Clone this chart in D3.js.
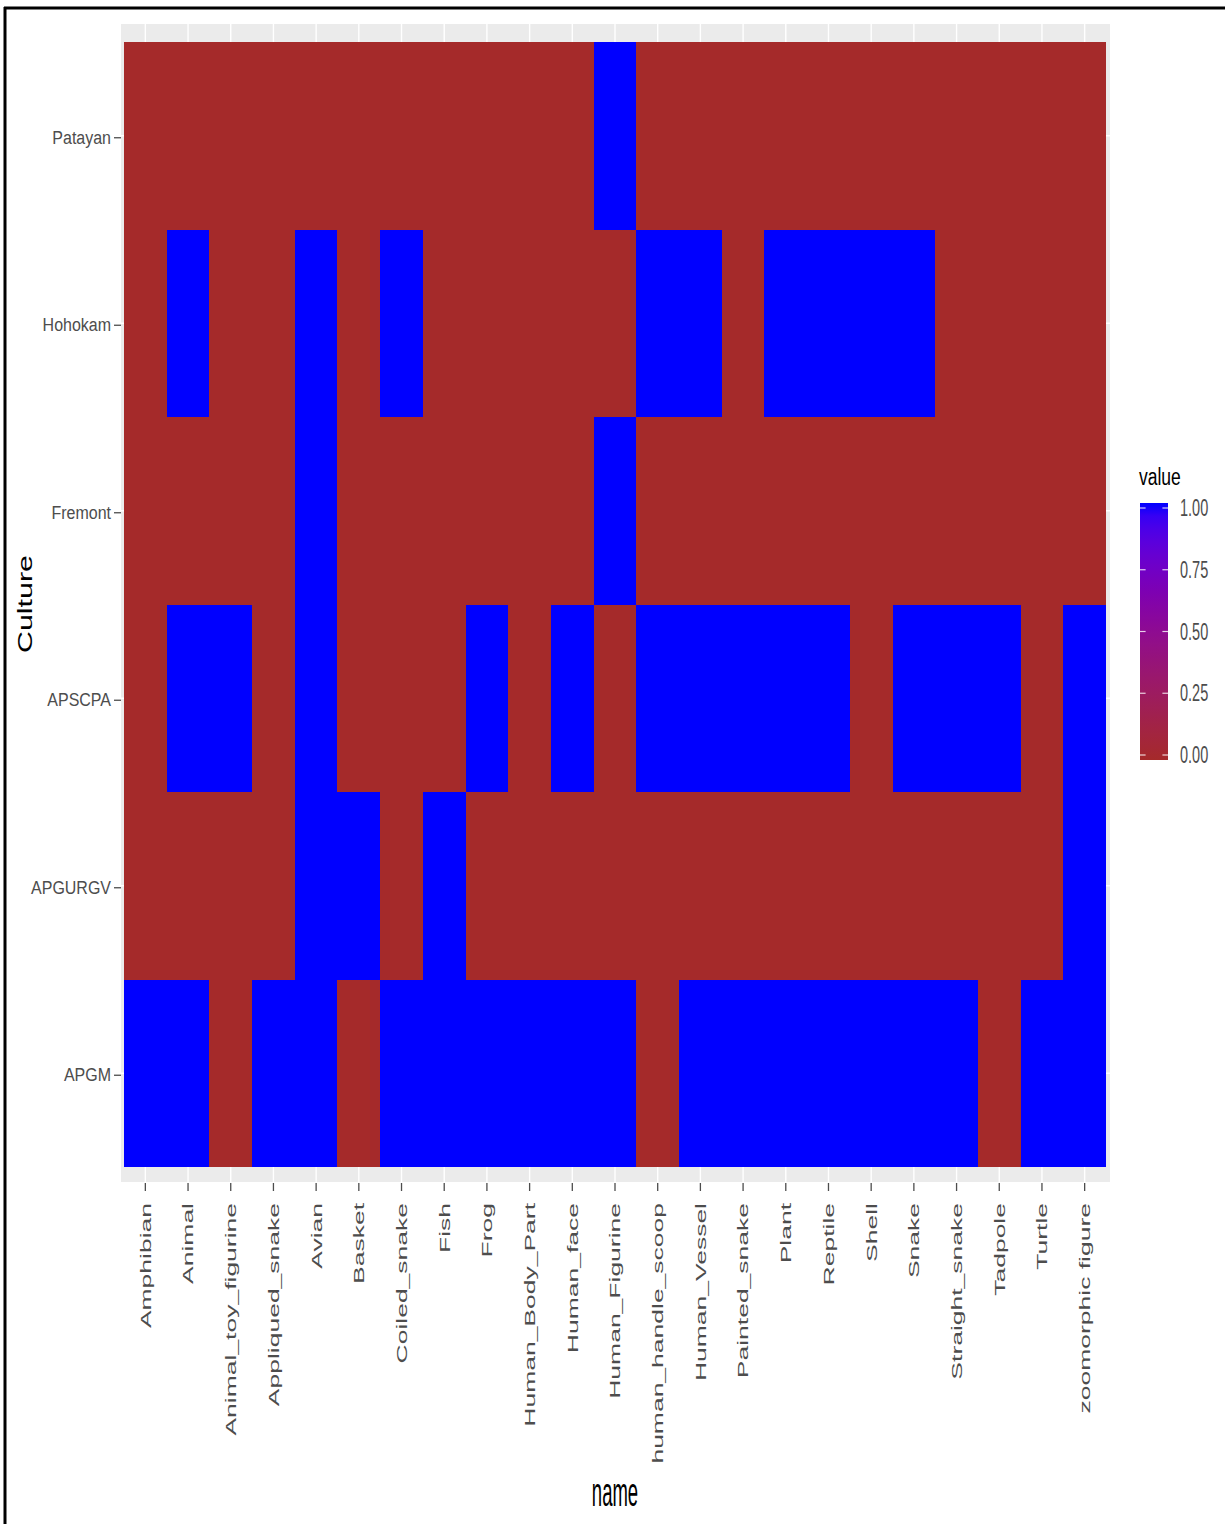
<!DOCTYPE html>
<html>
<head>
<meta charset="utf-8">
<script src="https://cdn.jsdelivr.net/npm/d3@7"></script>
<style>
  html, body { margin: 0; padding: 0; background: #ffffff; }
  svg { display: block; font-family: "Liberation Sans", Arial, sans-serif; }
</style>
</head>
<body>
<svg id="chart" width="1225" height="1524"></svg>
<script>
// Motif categories along the x axis
const names = [
  "Amphibian", "Animal", "Animal_toy_figurine", "Appliqued_snake", "Avian",
  "Basket", "Coiled_snake", "Fish", "Frog", "Human_Body_Part", "Human_face",
  "Human_Figurine", "human_handle_scoop", "Human_Vessel", "Painted_snake",
  "Plant", "Reptile", "Shell", "Snake", "Straight_snake", "Tadpole", "Turtle",
  "zoomorphic figure"
];

// Cultures along the y axis, top to bottom
const cultures = ["Patayan", "Hohokam", "Fremont", "APSCPA", "APGURGV", "APGM"];

// Presence (1) / absence (0) of each motif, one array per culture, in the order of `names`
const Patayan = [0,0,0,0,0, 0,0,0,0,0, 0,1,0,0,0, 0,0,0,0,0, 0,0,0];
const Hohokam = [0,1,0,0,1, 0,1,0,0,0, 0,0,1,1,0, 1,1,1,1,0, 0,0,0];
const Fremont = [0,0,0,0,1, 0,0,0,0,0, 0,1,0,0,0, 0,0,0,0,0, 0,0,0];
const APSCPA  = [0,1,1,0,1, 0,0,0,1,0, 1,0,1,1,1, 1,1,0,1,1, 1,0,1];
const APGURGV = [0,0,0,0,1, 1,0,1,0,0, 0,0,0,0,0, 0,0,0,0,0, 0,0,1];
const APGM    = [1,1,0,1,1, 0,1,1,1,1, 1,1,0,1,1, 1,1,1,1,1, 0,1,1];

// Legend breaks
const legendBreaks = [0, 0.25, 0.5, 0.75, 1];

const rows = { Patayan, Hohokam, Fremont, APSCPA, APGURGV, APGM };
const cells = [];
cultures.forEach(c => rows[c].forEach((v, i) => cells.push({ culture: c, name: names[i], value: v })));

const svg = d3.select("#chart");

// Outer frame (top and left edges)
svg.append("line").attr("x1", 4).attr("x2", 1225).attr("y1", 8).attr("y2", 8)
  .attr("stroke", "#000").attr("stroke-width", 3);
svg.append("line").attr("x1", 5).attr("x2", 5).attr("y1", 7).attr("y2", 1524)
  .attr("stroke", "#000").attr("stroke-width", 3);

// Panel geometry
const panel = { left: 121, right: 1110, top: 24, bottom: 1182 };
const tiles = { left: 124, right: 1106, top: 42, bottom: 1167 };

const x = d3.scaleBand().domain(names).range([tiles.left, tiles.right]).padding(0);
const y = d3.scaleBand().domain(cultures).range([tiles.top, tiles.bottom]).padding(0);

const low = "#A52A2A", high = "#0000FF";
const color = d3.scaleLinear().domain([0, 1]).range([low, high]).interpolate(d3.interpolateLab);

// Panel background and grid
svg.append("rect")
  .attr("x", panel.left).attr("y", panel.top)
  .attr("width", panel.right - panel.left).attr("height", panel.bottom - panel.top)
  .attr("fill", "#EBEBEB");

const grid = svg.append("g").attr("stroke", "#ffffff").attr("stroke-width", 1.4);
grid.selectAll("line.vx").data(names).join("line")
  .attr("x1", d => x(d) + x.bandwidth() / 2).attr("x2", d => x(d) + x.bandwidth() / 2)
  .attr("y1", panel.top).attr("y2", panel.bottom);
grid.selectAll("line.hy").data(cultures).join("line")
  .attr("y1", d => y(d) + y.bandwidth() / 2).attr("y2", d => y(d) + y.bandwidth() / 2)
  .attr("x1", panel.left).attr("x2", panel.right);

// Tiles
svg.append("g").attr("shape-rendering", "crispEdges")
  .selectAll("rect").data(cells).join("rect")
  .attr("x", d => Math.round(x(d.name)))
  .attr("y", d => Math.round(y(d.culture)))
  .attr("width", d => Math.round(x(d.name) + x.bandwidth()) - Math.round(x(d.name)))
  .attr("height", d => Math.round(y(d.culture) + y.bandwidth()) - Math.round(y(d.culture)))
  .attr("fill", d => color(d.value));

const axisGrey = "#4D4D4D";

// X axis: ticks and rotated labels
const xAxis = svg.append("g");
xAxis.selectAll("line").data(names).join("line")
  .attr("x1", d => x(d) + x.bandwidth() / 2).attr("x2", d => x(d) + x.bandwidth() / 2)
  .attr("y1", panel.bottom + 1).attr("y2", panel.bottom + 9)
  .attr("stroke", axisGrey).attr("stroke-width", 1.3);
xAxis.selectAll("text").data(names).join("text")
  .attr("transform", d => `translate(${x(d) + x.bandwidth() / 2},1203) scale(1,1.72) rotate(-90)`)
  .attr("text-anchor", "end")
  .attr("dy", "0.35em")
  .attr("font-size", 15.4)
  .attr("fill", axisGrey)
  .text(d => d);

// Y axis: ticks and labels
const yAxis = svg.append("g");
yAxis.selectAll("line").data(cultures).join("line")
  .attr("y1", d => y(d) + y.bandwidth() / 2 + 2).attr("y2", d => y(d) + y.bandwidth() / 2 + 2)
  .attr("x1", panel.left - 7).attr("x2", panel.left)
  .attr("stroke", axisGrey).attr("stroke-width", 1.3);
yAxis.selectAll("text").data(cultures).join("text")
  .attr("transform", d => `translate(111,${y(d) + y.bandwidth() / 2 + 2}) scale(1,1.1)`)
  .attr("text-anchor", "end")
  .attr("dy", "0.35em")
  .attr("font-size", 16)
  .attr("fill", axisGrey)
  .text(d => d);

// Axis titles
svg.append("text")
  .attr("transform", "translate(615,1496) scale(1,2.2)")
  .attr("text-anchor", "middle")
  .attr("dy", "0.25em")
  .attr("font-size", 18.5)
  .attr("fill", "#000")
  .text("name");

svg.append("text")
  .attr("transform", "translate(25,604) scale(1,1.45) rotate(-90)")
  .attr("text-anchor", "middle")
  .attr("dy", "0.35em")
  .attr("font-size", 21)
  .attr("fill", "#000")
  .text("Culture");

// Legend: continuous colour bar
const legend = svg.append("g");
const ly = d3.scaleLinear().domain([0, 1]).range([755, 508]);
const barLeft = 1140, barWidth = 28;

const defs = svg.append("defs");
const grad = defs.append("linearGradient").attr("id", "valueGrad")
  .attr("x1", 0).attr("x2", 0).attr("y1", 1).attr("y2", 0);
d3.range(0, 1.0001, 0.05).forEach(t => {
  grad.append("stop").attr("offset", t).attr("stop-color", color(t));
});
legend.append("rect")
  .attr("x", barLeft).attr("y", ly(1) - 5)
  .attr("width", barWidth).attr("height", ly(0) - ly(1) + 10)
  .attr("fill", "url(#valueGrad)");

legend.selectAll("line.l").data(legendBreaks).join("line")
  .attr("x1", barLeft).attr("x2", barLeft + barWidth / 5)
  .attr("y1", d => ly(d)).attr("y2", d => ly(d))
  .attr("stroke", "#ffffff").attr("stroke-width", 1.2).attr("opacity", 0.8);
legend.selectAll("line.r").data(legendBreaks).join("line")
  .attr("x1", barLeft + barWidth * 4 / 5).attr("x2", barLeft + barWidth)
  .attr("y1", d => ly(d)).attr("y2", d => ly(d))
  .attr("stroke", "#ffffff").attr("stroke-width", 1.2).attr("opacity", 0.8);

legend.selectAll("text.lab").data(legendBreaks).join("text")
  .attr("transform", d => `translate(1180,${ly(d)}) scale(1,1.6)`)
  .attr("dy", "0.35em")
  .attr("font-size", 14.5)
  .attr("fill", axisGrey)
  .text(d => d3.format(".2f")(d));

legend.append("text")
  .attr("transform", "translate(1139,485) scale(1,1.35)")
  .attr("font-size", 17.5)
  .attr("fill", "#000")
  .text("value");
</script>
</body>
</html>
